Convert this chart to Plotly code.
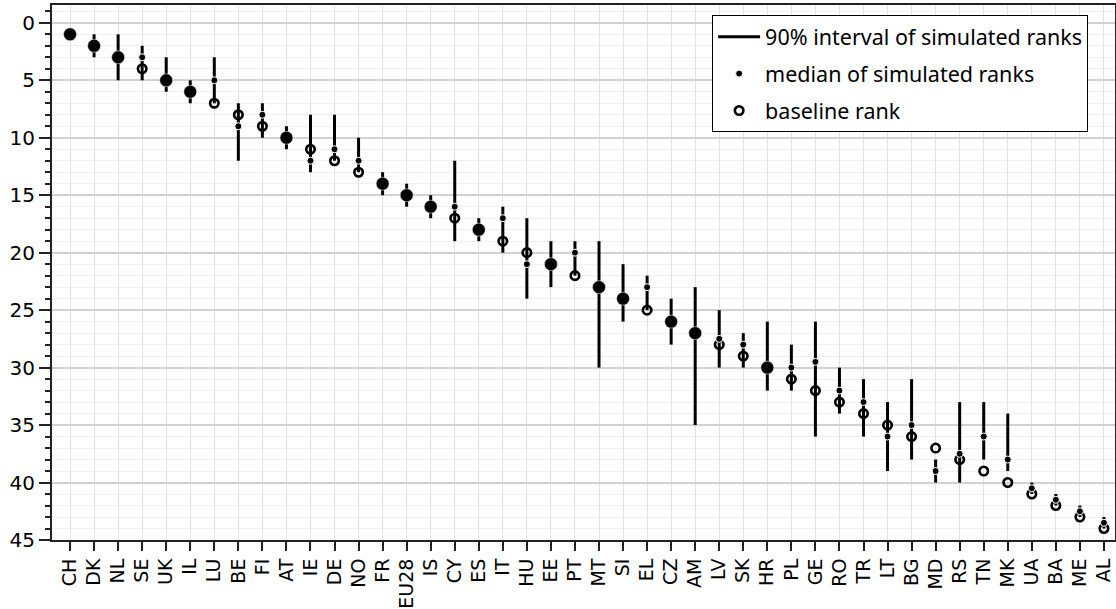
import plotly.graph_objects as go

countries = ["CH", "DK", "NL", "SE", "UK", "IL", "LU", "BE", "FI", "AT", "IE", "DE", "NO", "FR",
             "EU28", "IS", "CY", "ES", "IT", "HU", "EE", "PT", "MT", "SI", "EL", "CZ", "AM", "LV",
             "SK", "HR", "PL", "GE", "RO", "TR", "LT", "BG", "MD", "RS", "TN", "MK", "UA", "BA",
             "ME", "AL"]
baseline = [1, 2, 3, 4, 5, 6, 7, 8, 9, 10, 11, 12, 13, 14,
            15, 16, 17, 18, 19, 20, 21, 22, 23, 24, 25, 26, 27, 28,
            29, 30, 31, 32, 33, 34, 35, 36, 37, 38, 39, 40, 41, 42,
            43, 44]
median = [1, 2, 3, 3, 5, 6, 5, 9, 8, 10, 12, 11, 12, 14,
          15, 16, 16, 18, 17, 21, 21, 20, 23, 24, 23, 26, 27, 27.5,
          28, 30, 30, 29.5, 32, 33, 36, 35, 39, 37.5, 36, 38, 40.5, 41.5,
          42.5, 43.5]
low = [1, 1, 1, 2, 3, 5, 3, 7, 7, 9, 8, 8, 10, 13,
       14, 15, 12, 17, 16, 17, 19, 19, 19, 21, 22, 24, 23, 25,
       27, 26, 28, 26, 30, 31, 33, 31, 38, 33, 33, 34, 40, 41,
       42, 43]
high = [1, 3, 5, 5, 6, 7, 7, 12, 10, 11, 13, 12, 13, 15,
        16, 17, 19, 19, 20, 24, 23, 22, 30, 26, 25, 28, 35, 30,
        30, 32, 32, 36, 34, 36, 39, 38, 40, 40, 38, 39, 41, 42,
        43, 44]
ytick_vals = [0, 5, 10, 15, 20, 25, 30, 35, 40, 45]

FONT = "DejaVu Sans"

# interval segments
ix, iy = [], []
for c, lo, hi in zip(countries, low, high):
    ix += [c, c, None]
    iy += [lo, hi, None]

same_x = [c for c, b, m in zip(countries, baseline, median) if b == m]
same_y = [b for b, m in zip(baseline, median) if b == m]

fig = go.Figure()
fig.add_trace(go.Scatter(
    x=ix, y=iy, mode="lines", line=dict(color="black", width=3),
    name="90% interval of simulated ranks", legendgroup="a", legendrank=1))
fig.add_trace(go.Scatter(
    x=countries, y=baseline, mode="markers",
    marker=dict(symbol="circle-open", size=8.5, color="black", line=dict(width=2.6, color="black")),
    name="baseline rank", legendgroup="c", legendrank=3))
fig.add_trace(go.Scatter(
    x=countries, y=median, mode="markers",
    marker=dict(symbol="circle", size=7, color="black", line=dict(width=1, color="white")),
    name="median of simulated ranks", legendgroup="b", legendrank=2))
fig.add_trace(go.Scatter(
    x=same_x, y=same_y, mode="markers",
    marker=dict(symbol="circle", size=13, color="black", line=dict(width=0.5, color="white")),
    showlegend=False, hoverinfo="skip"))

fig.update_layout(
    width=1116, height=609,
    margin=dict(l=52, r=1, t=5, b=69),
    plot_bgcolor="white", paper_bgcolor="white",
    font=dict(family=FONT, size=19, color="black"),
    legend=dict(
        x=0.621, y=0.981, xanchor="left", yanchor="top",
        bgcolor="white", bordercolor="black", borderwidth=1,
        font=dict(family="Noto Sans", size=21.5, color="black"),
        tracegroupgap=6, traceorder="grouped", itemwidth=42,
    ),
    showlegend=True,
)
fig.update_xaxes(
    type="category", categoryorder="array", categoryarray=countries,
    range=[-0.75, 43.46], automargin=False,
    tickangle=-90, tickfont=dict(family=FONT, size=19),
    showgrid=True, gridcolor="#e2e2e2", gridwidth=1,
    showline=True, linecolor="#222", linewidth=2, mirror=True,
    ticks="outside", ticklen=9, tickwidth=2, tickcolor="#222",
)
fig.update_yaxes(
    range=[45, -1.55], automargin=False,
    tickmode="array", tickvals=ytick_vals,
    tickfont=dict(family=FONT, size=20),
    showgrid=True, gridcolor="#d2d2d2", gridwidth=1.5,
    showline=True, linecolor="#222", linewidth=2, mirror=True,
    ticks="outside", ticklen=11, tickwidth=2, tickcolor="#222",
    zeroline=False,
    minor=dict(dtick=1, tick0=0, showgrid=True, gridcolor="#f0f0f0", gridwidth=1,
               ticks="outside", ticklen=5, tickwidth=1.5, tickcolor="#222"),
)

fig.write_html("out.html", config={"displayModeBar": False},
               post_script="document.body.style.margin='0';document.body.style.overflow='hidden';")
